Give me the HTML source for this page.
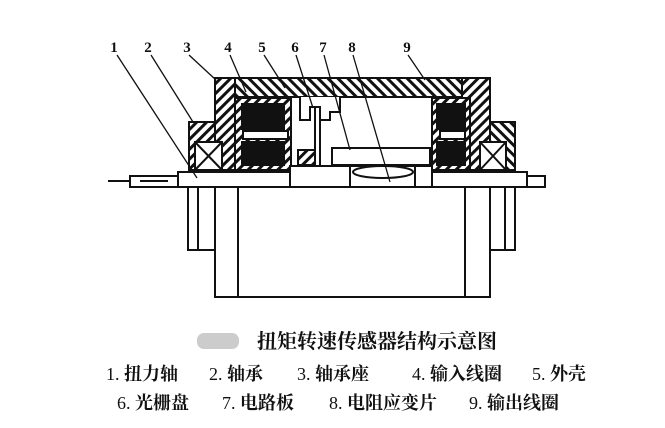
<!DOCTYPE html>
<html><head><meta charset="utf-8"><style>
html,body{margin:0;padding:0;background:#fff;}
.c{font-family:"Liberation Serif","Noto Serif CJK SC","Noto Sans CJK SC",serif;font-weight:bold;position:absolute;white-space:nowrap;color:#111;line-height:1;}
.n{font-weight:normal;}
</style></head><body>
<div style="position:relative;width:665px;height:428px;overflow:hidden;">
<svg width="665" height="428" style="position:absolute;left:0;top:0">
<defs>
<pattern id="h" width="7" height="7" patternUnits="userSpaceOnUse" patternTransform="rotate(45)">
<rect width="7" height="7" fill="#fff"/><rect width="3" height="7" fill="#111"/></pattern>
<pattern id="h2" width="7" height="7" patternUnits="userSpaceOnUse" patternTransform="rotate(-45)">
<rect width="7" height="7" fill="#fff"/><rect width="3" height="7" fill="#111"/></pattern>
</defs>
<g stroke="#111" stroke-width="2" fill="none">
<rect x="215" y="78" width="275" height="19" fill="url(#h2)"/>
<rect x="215" y="78" width="20" height="92" fill="url(#h)"/>
<rect x="462" y="78" width="28" height="92" fill="url(#h)"/>
<rect x="189" y="122" width="26" height="48" fill="url(#h)"/>
<rect x="490" y="122" width="25" height="48" fill="url(#h2)"/>
<rect x="195" y="142" width="27" height="28" fill="#fff"/>
<path d="M195 142L222 170M222 142L195 170"/>
<rect x="480" y="142" width="26" height="28" fill="#fff"/>
<path d="M480 142L506 170M506 142L480 170"/>
<rect x="235" y="98" width="56" height="72" fill="url(#h)"/>
<rect x="242" y="104" width="42" height="25" fill="#111"/>
<rect x="242" y="142" width="42" height="23" fill="#111"/>
<rect x="243" y="131" width="45" height="8" fill="#fff"/>
<rect x="432" y="98" width="38" height="72" fill="url(#h)"/>
<rect x="437" y="104" width="28" height="25" fill="#111"/>
<rect x="437" y="142" width="28" height="23" fill="#111"/>
<rect x="440" y="131" width="25" height="8" fill="#fff"/>
<path d="M300 97V120H310V107H320V120H330V112H340V97" fill="#fff"/>
<path d="M315 107V165M320 107V165"/>
<rect x="298" y="150" width="17" height="15" fill="url(#h)"/>
<rect x="332" y="148" width="98" height="17" fill="#fff"/>
<rect x="178" y="172" width="349" height="15" fill="#fff"/>
<rect x="290" y="166" width="60" height="21" fill="#fff"/>
<rect x="350" y="166" width="65" height="21" fill="#fff"/>
<ellipse cx="383" cy="172" rx="30" ry="6" fill="#fff"/>
<rect x="415" y="166" width="17" height="21" fill="#fff"/>
<rect x="130" y="176" width="48" height="11" fill="#fff"/>
<path d="M108 181H130M140 181H168"/>
<rect x="527" y="176" width="18" height="11" fill="#fff"/>
<rect x="215" y="187" width="275" height="110" fill="#fff"/>
<path d="M238 187V297M465 187V297"/>
<rect x="188" y="187" width="27" height="63"/>
<path d="M198 187V250M505 187V250"/>
<rect x="490" y="187" width="25" height="63"/>
<g stroke-width="1.3">
<path d="M117 55L197 178M151 55L193 122M189 55L216 80M230 55L246 92M264 55L285 88M296 55L313 108M324 55L350 150M353 55L390 182M408 55L425 80"/>
</g>
</g>
<g font-family="Liberation Serif,serif" font-weight="bold" font-size="15" fill="#111" text-anchor="middle">
<text x="114" y="52">1</text><text x="148" y="52">2</text><text x="187" y="52">3</text><text x="228" y="52">4</text><text x="262" y="52">5</text><text x="295" y="52">6</text><text x="323" y="52">7</text><text x="352" y="52">8</text><text x="407" y="52">9</text>
</g>
<rect x="197" y="333" width="42" height="16" rx="7" fill="#ccc"/>
</svg>
<div class="c" style="left:257px;top:332px;font-size:20px;">扭矩转速传感器结构示意图</div>
<div class="c" style="top:365px;font-size:18px;left:106px;"><span class="n">1.</span> 扭力轴</div>
<div class="c" style="top:365px;font-size:18px;left:209px;"><span class="n">2.</span> 轴承</div>
<div class="c" style="top:365px;font-size:18px;left:297px;"><span class="n">3.</span> 轴承座</div>
<div class="c" style="top:365px;font-size:18px;left:412px;"><span class="n">4.</span> 输入线圈</div>
<div class="c" style="top:365px;font-size:18px;left:532px;"><span class="n">5.</span> 外壳</div>
<div class="c" style="top:394px;font-size:18px;left:117px;"><span class="n">6.</span> 光栅盘</div>
<div class="c" style="top:394px;font-size:18px;left:222px;"><span class="n">7.</span> 电路板</div>
<div class="c" style="top:394px;font-size:18px;left:329px;"><span class="n">8.</span> 电阻应变片</div>
<div class="c" style="top:394px;font-size:18px;left:469px;"><span class="n">9.</span> 输出线圈</div>
</div>
</body></html>
